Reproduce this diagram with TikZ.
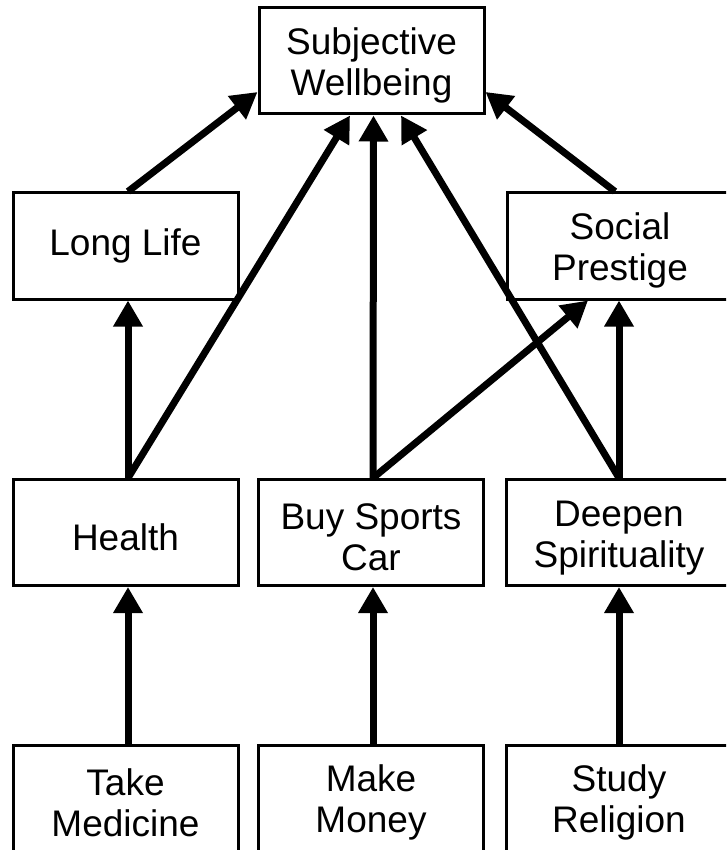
\documentclass[tikz,border=0pt]{standalone}
\usepackage{fontspec}
\setmainfont{Liberation Sans}
\usetikzlibrary{arrows.meta,calc}
\newcommand\dnrule{\rule{0pt}{36pt}}
\begin{document}
\begin{tikzpicture}[x=1pt,y=1pt,
  box/.style={draw=black, line width=3pt, minimum width=225pt, minimum height=106pt,
    inner sep=0pt, align=center, font=\fontsize{37}{41}\selectfont, fill=white},
  arr/.style={line width=7pt, -{Triangle[length=26pt,width=28pt]}}]
\clip (0,0) rectangle (726,-850);
\fill[white] (0,0) rectangle (726,-850);
% nodes
\node[box] (sw) at (371.5,-61) {\dnrule Subjective\\Wellbeing};
\node[box] (ll) at (125.5,-246) {Long Life};
\node[box] (sp) at (620,-246) {\dnrule Social\\Prestige};
\node[box] (h) at (125.5,-532.5) {\dnrule Health};
\node[box] (b) at (371,-532.5) {\dnrule Buy Sports\\Car};
\node[box] (d) at (619,-532.5) {\dnrule Deepen\\Spirituality};
\node[box] (tm) at (125.5,-798) {\dnrule Take\\Medicine};
\node[box] (mm) at (371,-798) {\dnrule Make\\Money};
\node[box] (sr) at (619,-798) {\dnrule Study\\Religion};
% connectors
\draw[arr] ([xshift=2.5pt]ll.north) -- ([yshift=-31pt]sw.west);
\draw[arr] ([xshift=-5pt]sp.north) -- ([yshift=-31pt]sw.east);
\draw[arr] ([xshift=2.5pt]h.north) -- ([xshift=2.5pt]ll.south);
\draw[arr] ([xshift=2.5pt]h.north) -- ([xshift=-21.5pt]sw.south);
\draw[arr] ([xshift=2pt]b.north) -- ([xshift=2pt]sw.south);
\draw[arr] ([xshift=2pt]b.north) -- ([xshift=-32pt]sp.south);
\draw[arr] (d.north) -- ([xshift=29.5pt]sw.south);
\draw[arr] (d.north) -- ([xshift=-1pt]sp.south);
\draw[arr] ([xshift=2.5pt]tm.north) -- ([xshift=2.5pt]h.south);
\draw[arr] ([xshift=2pt]mm.north) -- ([xshift=2pt]b.south);
\draw[arr] (sr.north) -- (d.south);
\end{tikzpicture}
\end{document}
